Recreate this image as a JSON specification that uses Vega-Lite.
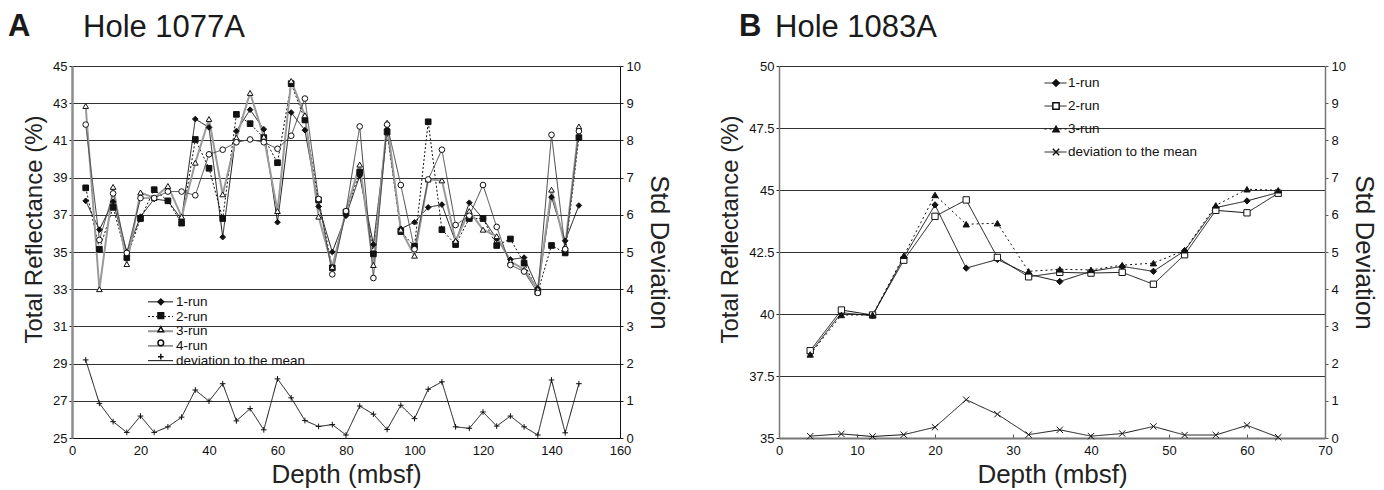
{
  "$schema": "https://vega.github.io/schema/vega-lite/v6.json",
  "padding": {"left": 8, "top": 11, "right": 5, "bottom": 5},
  "spacing": 46,
  "datasets": {
    "aRuns": [
      {"depth": 4, "1-run": 37.75, "2-run": 38.45, "3-run": 42.85, "4-run": 41.85},
      {"depth": 8, "1-run": 36.2, "2-run": 35.15, "3-run": 33.0, "4-run": 35.65},
      {"depth": 12, "1-run": 37.7, "2-run": 37.4, "3-run": 38.5, "4-run": 38.15},
      {"depth": 16, "1-run": 35.0, "2-run": 34.7, "3-run": 34.35, "4-run": 34.95},
      {"depth": 20, "1-run": 36.9, "2-run": 36.8, "3-run": 38.2, "4-run": 37.9},
      {"depth": 24, "1-run": 37.85, "2-run": 38.35, "3-run": 37.9, "4-run": 37.9},
      {"depth": 28, "1-run": 37.75, "2-run": 37.75, "3-run": 38.55, "4-run": 38.25},
      {"depth": 32, "1-run": 36.75, "2-run": 36.55, "3-run": 36.9, "4-run": 38.25},
      {"depth": 36, "1-run": 42.15, "2-run": 41.05, "3-run": 39.8, "4-run": 38.05},
      {"depth": 40, "1-run": 41.7, "2-run": 39.5, "3-run": 42.15, "4-run": 40.25},
      {"depth": 44, "1-run": 35.8, "2-run": 36.8, "3-run": 38.1, "4-run": 40.5},
      {"depth": 48, "1-run": 41.5, "2-run": 42.4, "3-run": 41.15, "4-run": 40.9},
      {"depth": 52, "1-run": 42.65, "2-run": 41.9, "3-run": 43.55, "4-run": 41.05},
      {"depth": 56, "1-run": 41.6, "2-run": 41.15, "3-run": 41.2, "4-run": 40.9},
      {"depth": 60, "1-run": 36.6, "2-run": 39.8, "3-run": 37.2, "4-run": 40.55},
      {"depth": 64, "1-run": 42.5, "2-run": 44.05, "3-run": 44.2, "4-run": 41.25},
      {"depth": 68, "1-run": 41.55, "2-run": 42.1, "3-run": 42.35, "4-run": 43.25},
      {"depth": 72, "1-run": 37.45, "2-run": 37.8, "3-run": 36.9, "4-run": 37.85},
      {"depth": 76, "1-run": 35.0, "2-run": 34.15, "3-run": 34.2, "4-run": 33.8},
      {"depth": 80, "1-run": 36.95, "2-run": 37.15, "3-run": 37.2, "4-run": 37.2},
      {"depth": 84, "1-run": 39.1, "2-run": 39.3, "3-run": 39.7, "4-run": 41.75},
      {"depth": 88, "1-run": 35.4, "2-run": 34.9, "3-run": 34.3, "4-run": 33.6},
      {"depth": 92, "1-run": 41.6, "2-run": 41.45, "3-run": 41.95, "4-run": 41.85},
      {"depth": 96, "1-run": 36.25, "2-run": 36.1, "3-run": 36.2, "4-run": 38.6},
      {"depth": 100, "1-run": 36.6, "2-run": 35.3, "3-run": 34.8, "4-run": 35.15},
      {"depth": 104, "1-run": 37.4, "2-run": 42.0, "3-run": 38.9, "4-run": 38.9},
      {"depth": 108, "1-run": 37.55, "2-run": 36.2, "3-run": 38.85, "4-run": 40.5},
      {"depth": 112, "1-run": 35.55, "2-run": 35.4, "3-run": 35.6, "4-run": 36.45},
      {"depth": 116, "1-run": 37.65, "2-run": 36.8, "3-run": 37.2, "4-run": 36.95},
      {"depth": 120, "1-run": 36.8, "2-run": 36.8, "3-run": 36.2, "4-run": 38.6},
      {"depth": 124, "1-run": 35.7, "2-run": 35.35, "3-run": 35.85, "4-run": 36.35},
      {"depth": 128, "1-run": 34.6, "2-run": 35.7, "3-run": 34.5, "4-run": 34.3},
      {"depth": 132, "1-run": 34.7, "2-run": 34.4, "3-run": 34.05, "4-run": 33.95},
      {"depth": 136, "1-run": 33.05, "2-run": 32.85, "3-run": 33.0, "4-run": 32.8},
      {"depth": 140, "1-run": 37.95, "2-run": 35.35, "3-run": 38.35, "4-run": 41.3},
      {"depth": 144, "1-run": 35.6, "2-run": 34.95, "3-run": 35.3, "4-run": 35.15},
      {"depth": 148, "1-run": 37.5, "2-run": 41.15, "3-run": 41.75, "4-run": 41.5}
    ],
    "aDev": [
      {"depth": 4, "series": "deviation to the mean", "value": 2.10},
      {"depth": 8, "series": "deviation to the mean", "value": 0.93},
      {"depth": 12, "series": "deviation to the mean", "value": 0.44},
      {"depth": 16, "series": "deviation to the mean", "value": 0.15},
      {"depth": 20, "series": "deviation to the mean", "value": 0.59},
      {"depth": 24, "series": "deviation to the mean", "value": 0.15},
      {"depth": 28, "series": "deviation to the mean", "value": 0.30},
      {"depth": 32, "series": "deviation to the mean", "value": 0.56},
      {"depth": 36, "series": "deviation to the mean", "value": 1.29},
      {"depth": 40, "series": "deviation to the mean", "value": 0.99},
      {"depth": 44, "series": "deviation to the mean", "value": 1.46},
      {"depth": 48, "series": "deviation to the mean", "value": 0.46},
      {"depth": 52, "series": "deviation to the mean", "value": 0.79},
      {"depth": 56, "series": "deviation to the mean", "value": 0.22},
      {"depth": 60, "series": "deviation to the mean", "value": 1.59},
      {"depth": 64, "series": "deviation to the mean", "value": 1.08},
      {"depth": 68, "series": "deviation to the mean", "value": 0.47},
      {"depth": 72, "series": "deviation to the mean", "value": 0.31},
      {"depth": 76, "series": "deviation to the mean", "value": 0.36},
      {"depth": 80, "series": "deviation to the mean", "value": 0.08},
      {"depth": 84, "series": "deviation to the mean", "value": 0.86},
      {"depth": 88, "series": "deviation to the mean", "value": 0.64},
      {"depth": 92, "series": "deviation to the mean", "value": 0.23},
      {"depth": 96, "series": "deviation to the mean", "value": 0.88},
      {"depth": 100, "series": "deviation to the mean", "value": 0.52},
      {"depth": 104, "series": "deviation to the mean", "value": 1.31},
      {"depth": 108, "series": "deviation to the mean", "value": 1.51},
      {"depth": 112, "series": "deviation to the mean", "value": 0.30},
      {"depth": 116, "series": "deviation to the mean", "value": 0.26},
      {"depth": 120, "series": "deviation to the mean", "value": 0.70},
      {"depth": 124, "series": "deviation to the mean", "value": 0.32},
      {"depth": 128, "series": "deviation to the mean", "value": 0.59},
      {"depth": 132, "series": "deviation to the mean", "value": 0.30},
      {"depth": 136, "series": "deviation to the mean", "value": 0.08},
      {"depth": 140, "series": "deviation to the mean", "value": 1.56},
      {"depth": 144, "series": "deviation to the mean", "value": 0.14},
      {"depth": 148, "series": "deviation to the mean", "value": 1.46}
    ],
    "bRuns": [
      {"depth": 4, "1-run": 38.42, "2-run": 38.52, "3-run": 38.37},
      {"depth": 8, "1-run": 40.05, "2-run": 40.16, "3-run": 39.96},
      {"depth": 12, "1-run": 39.93, "2-run": 39.96, "3-run": 39.96},
      {"depth": 16, "1-run": 42.28, "2-run": 42.17, "3-run": 42.35},
      {"depth": 20, "1-run": 44.4, "2-run": 43.94, "3-run": 44.8},
      {"depth": 24, "1-run": 41.85, "2-run": 44.6, "3-run": 43.62},
      {"depth": 28, "1-run": 42.2, "2-run": 42.28, "3-run": 43.66},
      {"depth": 32, "1-run": 41.6, "2-run": 41.5, "3-run": 41.72},
      {"depth": 36, "1-run": 41.31, "2-run": 41.68, "3-run": 41.8},
      {"depth": 40, "1-run": 41.72, "2-run": 41.65, "3-run": 41.78},
      {"depth": 44, "1-run": 41.92, "2-run": 41.68, "3-run": 41.97},
      {"depth": 48, "1-run": 41.72, "2-run": 41.2, "3-run": 42.05},
      {"depth": 52, "1-run": 42.55, "2-run": 42.39, "3-run": 42.57},
      {"depth": 56, "1-run": 44.29, "2-run": 44.18, "3-run": 44.38},
      {"depth": 60, "1-run": 44.56, "2-run": 44.08, "3-run": 45.03},
      {"depth": 64, "1-run": 44.9, "2-run": 44.87, "3-run": 44.99}
    ],
    "bDev": [
      {"depth": 4, "series": "deviation to the mean", "value": 0.05},
      {"depth": 8, "series": "deviation to the mean", "value": 0.11},
      {"depth": 12, "series": "deviation to the mean", "value": 0.04},
      {"depth": 16, "series": "deviation to the mean", "value": 0.09},
      {"depth": 20, "series": "deviation to the mean", "value": 0.29},
      {"depth": 24, "series": "deviation to the mean", "value": 1.03},
      {"depth": 28, "series": "deviation to the mean", "value": 0.64},
      {"depth": 32, "series": "deviation to the mean", "value": 0.09},
      {"depth": 36, "series": "deviation to the mean", "value": 0.22},
      {"depth": 40, "series": "deviation to the mean", "value": 0.05},
      {"depth": 44, "series": "deviation to the mean", "value": 0.12},
      {"depth": 48, "series": "deviation to the mean", "value": 0.31},
      {"depth": 52, "series": "deviation to the mean", "value": 0.08},
      {"depth": 56, "series": "deviation to the mean", "value": 0.08},
      {"depth": 60, "series": "deviation to the mean", "value": 0.34},
      {"depth": 64, "series": "deviation to the mean", "value": 0.02}
    ]
  },
  "hconcat": [
    {
      "title": {"text": "A", "fontWeight": "bold", "dx": -64, "offset": -31},
      "hconcat": [
        {
          "width": 548,
          "height": 372,
          "title": {"text": "Hole 1077A", "dx": 11},
          "layer": [
            {
              "data": {"name": "aRuns"},
              "transform": [{"fold": ["1-run", "2-run", "3-run", "4-run"], "as": ["series", "value"]}],
              "encoding": {
                "x": {"field": "depth", "type": "quantitative", "scale": {"domain": [0, 160], "nice": false, "zero": false},
                  "axis": {"title": "Depth (mbsf)", "titleFontSize": 26, "values": [0, 20, 40, 60, 80, 100, 120, 140, 160], "ticks": false, "labelPadding": 6, "titlePadding": 4, "domainColor": "#111"}},
                "y": {"field": "value", "type": "quantitative", "scale": {"domain": [25, 45], "nice": false, "zero": false},
                  "axis": {"title": "Total Reflectance (%)", "values": [25, 27, 29, 31, 33, 35, 37, 39, 41, 43, 45], "grid": true, "gridColor": "#333", "gridWidth": 1, "domainColor": "#8c8c8c", "domainWidth": 2.5, "tickSize": 3, "labelPadding": 2, "titlePadding": 6, "titleY": 163}}
              },
              "layer": [
                {
                  "mark": {"type": "line"},
                  "encoding": {
                    "stroke": {"field": "series", "type": "nominal", "scale": {"range": ["#111", "#111", "#9a9a9a", "#444", "#111"]},
                      "legend": {"orient": "none", "legendX": 75, "legendY": 229.5, "title": null, "symbolType": "stroke", "symbolSize": 625, "clipHeight": 12.7, "rowPadding": 0.7, "padding": 0, "labelOffset": 2, "labelFontSize": 13.5}},
                    "strokeDash": {"field": "series", "type": "nominal", "scale": {"range": [[1, 0], [2, 2], [1, 0], [1, 0], [1, 0]]},
                      "legend": {"orient": "none", "legendX": 75, "legendY": 229.5, "title": null, "symbolType": "stroke", "symbolSize": 625, "clipHeight": 12.7, "rowPadding": 0.7, "padding": 0, "labelOffset": 2, "labelFontSize": 13.5}},
                    "strokeWidth": {"field": "series", "type": "nominal", "scale": {"type": "ordinal", "range": [1, 1, 2, 1, 1]},
                      "legend": {"orient": "none", "legendX": 75, "legendY": 229.5, "title": null, "symbolType": "stroke", "symbolSize": 625, "clipHeight": 12.7, "rowPadding": 0.7, "padding": 0, "labelOffset": 2, "labelFontSize": 13.5}}
                  }
                },
                {
                  "mark": {"type": "point", "filled": true, "stroke": "#111", "strokeWidth": 1, "opacity": 1, "size": 32},
                  "encoding": {
                    "shape": {"field": "series", "type": "nominal", "scale": {"domain": ["1-run", "2-run", "3-run", "4-run", "deviation to the mean"], "range": ["diamond", "square", "triangle-up", "circle", "M-1,0H1M0,-1V1"]},
                      "legend": {"orient": "none", "legendX": 84.8, "legendY": 229.5, "title": null, "symbolSize": 32, "clipHeight": 12.7, "rowPadding": 0.7, "padding": 0, "labelOpacity": 0, "labelFontSize": 1, "encode": {"symbols": {"stroke": {"value": "#111"}, "strokeWidth": {"value": 1}}}}},
                    "fill": {"field": "series", "type": "nominal", "scale": {"domain": ["1-run", "2-run", "3-run", "4-run", "deviation to the mean"], "range": ["#111", "#111", "white", "white", "#111"]},
                      "legend": {"orient": "none", "legendX": 84.8, "legendY": 229.5, "title": null, "symbolSize": 32, "clipHeight": 12.7, "rowPadding": 0.7, "padding": 0, "labelOpacity": 0, "labelFontSize": 1, "encode": {"symbols": {"stroke": {"value": "#111"}, "strokeWidth": {"value": 1}}}}}
                  }
                }
              ]
            },
            {
              "data": {"name": "aDev"},
              "encoding": {
                "x": {"field": "depth", "type": "quantitative", "scale": {"domain": [0, 160], "nice": false, "zero": false},
                  "axis": {"title": "Depth (mbsf)", "titleFontSize": 26, "values": [0, 20, 40, 60, 80, 100, 120, 140, 160], "ticks": false, "labelPadding": 6, "titlePadding": 4, "domainColor": "#111"}},
                "y": {"field": "value", "type": "quantitative", "scale": {"domain": [0, 10], "nice": false, "zero": false},
                  "axis": {"orient": "right", "title": "Std Deviation", "titleFontSize": 26, "values": [0, 1, 2, 3, 4, 5, 6, 7, 8, 9, 10], "tickSize": 3, "labelPadding": 3, "titlePadding": 5, "domainColor": "#111"}}
              },
              "layer": [
                {
                  "mark": {"type": "line"},
                  "encoding": {
                    "stroke": {"field": "series", "type": "nominal", "scale": {"range": ["#111", "#111", "#9a9a9a", "#444", "#111"]},
                      "legend": {"orient": "none", "legendX": 75, "legendY": 229.5, "title": null, "symbolType": "stroke", "symbolSize": 625, "clipHeight": 12.7, "rowPadding": 0.7, "padding": 0, "labelOffset": 2, "labelFontSize": 13.5}},
                    "strokeDash": {"field": "series", "type": "nominal", "scale": {"range": [[1, 0], [2, 2], [1, 0], [1, 0], [1, 0]]},
                      "legend": {"orient": "none", "legendX": 75, "legendY": 229.5, "title": null, "symbolType": "stroke", "symbolSize": 625, "clipHeight": 12.7, "rowPadding": 0.7, "padding": 0, "labelOffset": 2, "labelFontSize": 13.5}},
                    "strokeWidth": {"field": "series", "type": "nominal", "scale": {"type": "ordinal", "range": [1, 1, 2, 1, 1]},
                      "legend": {"orient": "none", "legendX": 75, "legendY": 229.5, "title": null, "symbolType": "stroke", "symbolSize": 625, "clipHeight": 12.7, "rowPadding": 0.7, "padding": 0, "labelOffset": 2, "labelFontSize": 13.5}}
                  }
                },
                {
                  "mark": {"type": "point", "filled": true, "stroke": "#111", "strokeWidth": 1, "opacity": 1, "size": 32},
                  "encoding": {
                    "shape": {"field": "series", "type": "nominal", "scale": {"domain": ["1-run", "2-run", "3-run", "4-run", "deviation to the mean"], "range": ["diamond", "square", "triangle-up", "circle", "M-1,0H1M0,-1V1"]},
                      "legend": {"orient": "none", "legendX": 84.8, "legendY": 229.5, "title": null, "symbolSize": 32, "clipHeight": 12.7, "rowPadding": 0.7, "padding": 0, "labelOpacity": 0, "labelFontSize": 1, "encode": {"symbols": {"stroke": {"value": "#111"}, "strokeWidth": {"value": 1}}}}},
                    "fill": {"field": "series", "type": "nominal", "scale": {"domain": ["1-run", "2-run", "3-run", "4-run", "deviation to the mean"], "range": ["#111", "#111", "white", "white", "#111"]},
                      "legend": {"orient": "none", "legendX": 84.8, "legendY": 229.5, "title": null, "symbolSize": 32, "clipHeight": 12.7, "rowPadding": 0.7, "padding": 0, "labelOpacity": 0, "labelFontSize": 1, "encode": {"symbols": {"stroke": {"value": "#111"}, "strokeWidth": {"value": 1}}}}}
                  }
                }
              ]
            }
          ],
          "resolve": {"scale": {"y": "independent"}}
        }
      ]
    },
    {
      "title": {"text": "B", "fontWeight": "bold", "dx": -40, "offset": -31},
      "hconcat": [
        {
          "width": 546,
          "height": 372,
          "title": {"text": "Hole 1083A", "dx": -4},
          "layer": [
            {
              "data": {"name": "bRuns"},
              "transform": [{"fold": ["1-run", "2-run", "3-run"], "as": ["series", "value"]}],
              "encoding": {
                "x": {"field": "depth", "type": "quantitative", "scale": {"domain": [0, 70], "nice": false, "zero": false},
                  "axis": {"title": "Depth (mbsf)", "titleFontSize": 26, "values": [0, 10, 20, 30, 40, 50, 60, 70], "tickSize": -4, "tickColor": "#555", "labelPadding": 10, "titlePadding": 4, "domainColor": "#777", "domainWidth": 2}},
                "y": {"field": "value", "type": "quantitative", "scale": {"domain": [35, 50], "nice": false, "zero": false},
                  "axis": {"title": "Total Reflectance (%)", "values": [35, 37.5, 40, 42.5, 45, 47.5, 50], "format": ".3~g", "grid": true, "gridColor": "#333", "gridWidth": 1, "domainColor": "#777", "domainWidth": 1.5, "tickSize": 3, "labelPadding": 2, "titlePadding": 6, "titleY": 163}}
              },
              "layer": [
                {
                  "mark": {"type": "line", "strokeWidth": 1},
                  "encoding": {
                    "stroke": {"field": "series", "type": "nominal", "scale": {"range": ["#111", "#111", "#111", "#111"]},
                      "legend": {"orient": "none", "legendX": 265, "legendY": 6.5, "title": null, "symbolType": "stroke", "symbolSize": 484, "symbolStrokeWidth": 1, "clipHeight": 21, "rowPadding": 2, "padding": 0, "labelOffset": 1, "labelFontSize": 13.5}},
                    "strokeDash": {"field": "series", "type": "nominal", "scale": {"range": [[1, 0], [1, 0], [2, 3], [1, 0]]},
                      "legend": {"orient": "none", "legendX": 265, "legendY": 6.5, "title": null, "symbolType": "stroke", "symbolSize": 484, "symbolStrokeWidth": 1, "clipHeight": 21, "rowPadding": 2, "padding": 0, "labelOffset": 1, "labelFontSize": 13.5}}
                  }
                },
                {
                  "mark": {"type": "point", "filled": true, "stroke": "#111", "strokeWidth": 1, "opacity": 1, "size": 40},
                  "encoding": {
                    "shape": {"field": "series", "type": "nominal", "scale": {"domain": ["1-run", "2-run", "3-run", "deviation to the mean"], "range": ["diamond", "square", "triangle-up", "M-1,-1L1,1M-1,1L1,-1"]},
                      "legend": {"orient": "none", "legendX": 273, "legendY": 6.5, "title": null, "symbolSize": 40, "clipHeight": 21, "rowPadding": 2, "padding": 0, "labelOpacity": 0, "labelFontSize": 1, "encode": {"symbols": {"stroke": {"value": "#111"}, "strokeWidth": {"value": 1}}}}},
                    "fill": {"field": "series", "type": "nominal", "scale": {"domain": ["1-run", "2-run", "3-run", "deviation to the mean"], "range": ["#111", "white", "#111", "#111"]},
                      "legend": {"orient": "none", "legendX": 273, "legendY": 6.5, "title": null, "symbolSize": 40, "clipHeight": 21, "rowPadding": 2, "padding": 0, "labelOpacity": 0, "labelFontSize": 1, "encode": {"symbols": {"stroke": {"value": "#111"}, "strokeWidth": {"value": 1}}}}}
                  }
                }
              ]
            },
            {
              "data": {"name": "bDev"},
              "encoding": {
                "x": {"field": "depth", "type": "quantitative", "scale": {"domain": [0, 70], "nice": false, "zero": false},
                  "axis": {"title": "Depth (mbsf)", "titleFontSize": 26, "values": [0, 10, 20, 30, 40, 50, 60, 70], "tickSize": -4, "tickColor": "#555", "labelPadding": 10, "titlePadding": 4, "domainColor": "#777", "domainWidth": 2}},
                "y": {"field": "value", "type": "quantitative", "scale": {"domain": [0, 10], "nice": false, "zero": false},
                  "axis": {"orient": "right", "title": "Std Deviation", "titleFontSize": 26, "values": [0, 1, 2, 3, 4, 5, 6, 7, 8, 9, 10], "tickSize": 3, "labelPadding": 3, "titlePadding": 5, "domainColor": "#777", "domainWidth": 1.5, "tickColor": "#555"}}
              },
              "layer": [
                {
                  "mark": {"type": "line", "strokeWidth": 1},
                  "encoding": {
                    "stroke": {"field": "series", "type": "nominal", "scale": {"range": ["#111", "#111", "#111", "#111"]},
                      "legend": {"orient": "none", "legendX": 265, "legendY": 6.5, "title": null, "symbolType": "stroke", "symbolSize": 484, "symbolStrokeWidth": 1, "clipHeight": 21, "rowPadding": 2, "padding": 0, "labelOffset": 1, "labelFontSize": 13.5}},
                    "strokeDash": {"field": "series", "type": "nominal", "scale": {"range": [[1, 0], [1, 0], [2, 3], [1, 0]]},
                      "legend": {"orient": "none", "legendX": 265, "legendY": 6.5, "title": null, "symbolType": "stroke", "symbolSize": 484, "symbolStrokeWidth": 1, "clipHeight": 21, "rowPadding": 2, "padding": 0, "labelOffset": 1, "labelFontSize": 13.5}}
                  }
                },
                {
                  "mark": {"type": "point", "filled": true, "stroke": "#111", "strokeWidth": 1, "opacity": 1, "size": 40},
                  "encoding": {
                    "shape": {"field": "series", "type": "nominal", "scale": {"domain": ["1-run", "2-run", "3-run", "deviation to the mean"], "range": ["diamond", "square", "triangle-up", "M-1,-1L1,1M-1,1L1,-1"]},
                      "legend": {"orient": "none", "legendX": 273, "legendY": 6.5, "title": null, "symbolSize": 40, "clipHeight": 21, "rowPadding": 2, "padding": 0, "labelOpacity": 0, "labelFontSize": 1, "encode": {"symbols": {"stroke": {"value": "#111"}, "strokeWidth": {"value": 1}}}}},
                    "fill": {"field": "series", "type": "nominal", "scale": {"domain": ["1-run", "2-run", "3-run", "deviation to the mean"], "range": ["#111", "white", "#111", "#111"]},
                      "legend": {"orient": "none", "legendX": 273, "legendY": 6.5, "title": null, "symbolSize": 40, "clipHeight": 21, "rowPadding": 2, "padding": 0, "labelOpacity": 0, "labelFontSize": 1, "encode": {"symbols": {"stroke": {"value": "#111"}, "strokeWidth": {"value": 1}}}}}
                  }
                }
              ]
            }
          ],
          "resolve": {"scale": {"y": "independent"}}
        }
      ]
    }
  ],
  "resolve": {"scale": {"stroke": "independent", "strokeDash": "independent", "strokeWidth": "independent", "shape": "independent", "fill": "independent"}},
  "config": {
    "font": "Liberation Sans",
    "view": {"stroke": null},
    "axis": {"labelFont": "Liberation Sans", "labelFontSize": 13, "labelColor": "#111", "titleFont": "Liberation Sans", "titleFontSize": 24, "titleFontWeight": "normal", "titleColor": "#222", "tickColor": "#222", "domainColor": "#222", "labelFlush": false, "labelOverlap": false, "grid": false},
    "legend": {"labelFont": "Liberation Sans", "labelColor": "#111"},
    "title": {"font": "Liberation Sans", "fontSize": 31, "fontWeight": "normal", "color": "#1a1a1a", "anchor": "start", "frame": "group", "offset": 16}
  }
}
